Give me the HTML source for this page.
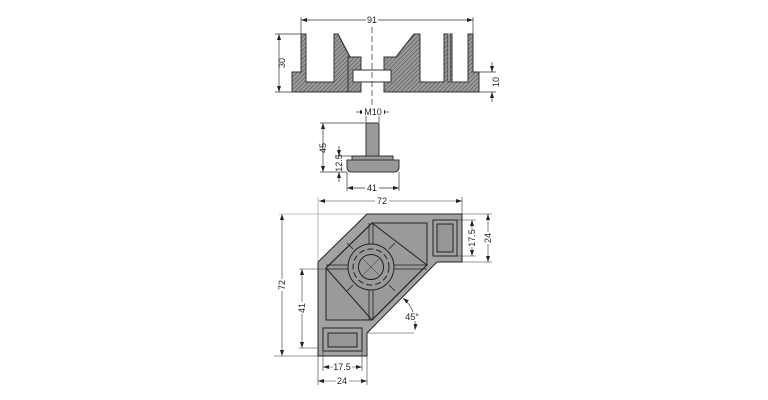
<!DOCTYPE html>
<html><head><style>
html,body{margin:0;padding:0;background:#fff;}
svg{display:block;}
text{font-family:"Liberation Sans",sans-serif;font-size:9px;fill:#222;}
</style></head><body>
<svg width="768" height="400" viewBox="0 0 768 400" xmlns="http://www.w3.org/2000/svg">
<defs>
<pattern id="h" width="3" height="3" patternUnits="userSpaceOnUse" patternTransform="rotate(45)">
<rect width="3" height="3" fill="#9a9a9a"/><line x1="0" y1="0" x2="0" y2="3" stroke="#444" stroke-width="1"/>
</pattern>
<marker id="a" markerWidth="6" markerHeight="6" refX="6" refY="3" orient="auto-start-reverse" markerUnits="userSpaceOnUse">
<path d="M0,1 L6,3 L0,5z" fill="#222"/></marker>
</defs>
<g stroke="#333" stroke-width="1" fill="url(#h)">
<path d="M292,72 H301 V34 H306 V82 H334 V34 H338 L350,57 H348 V92 H292 Z"/>
<path d="M301,34 V72"/>
<rect x="348" y="57" width="13" height="35"/>
<rect x="384" y="57" width="12" height="35"/>
<path d="M396,57 L414,34 H420 V82 H444 V34 H448 V82 H450 V34 H452 V82 H468 V34 H473 V72 H479 V92 H384 V57 Z"/>
<rect x="353" y="70" width="38" height="12" fill="#fff"/>
<path d="M338,34 L350,57 M414,34 L396,57" fill="none"/>
</g>
<line x1="372" y1="18" x2="372" y2="106" stroke="#444" stroke-width="0.8" stroke-dasharray="6,3"/>
<g stroke="#333" stroke-width="0.7" fill="none">
<line x1="301" y1="20" x2="473" y2="20" marker-start="url(#a)" marker-end="url(#a)"/>
<line x1="301" y1="17" x2="301" y2="34"/><line x1="473" y1="17" x2="473" y2="34"/>
<line x1="279" y1="34" x2="279" y2="92" marker-start="url(#a)" marker-end="url(#a)"/>
<line x1="275" y1="34" x2="301" y2="34"/><line x1="275" y1="92" x2="292" y2="92"/>
<line x1="479" y1="72" x2="496" y2="72"/><line x1="479" y1="92" x2="496" y2="92"/>
<line x1="492" y1="62" x2="492" y2="72" marker-end="url(#a)"/><line x1="492" y1="102" x2="492" y2="92" marker-end="url(#a)"/>
</g>
<rect x="366" y="16" width="12" height="8" fill="#fff"/>
<text x="372" y="23" text-anchor="middle">91</text>
<text transform="translate(285,63) rotate(-90)" text-anchor="middle">30</text>
<text transform="translate(499,82) rotate(-90)" text-anchor="middle">10</text>
<g stroke="#333" stroke-width="1" fill="#999">
<path d="M366,125 Q366,123 368,123 H377 Q379,123 379,125 V156 H366 Z"/>
<rect x="352" y="156" width="41" height="4"/>
<path d="M347,160 H399 V167 Q399,172 394,172 H352 Q347,172 347,167 Z"/>
</g>
<g stroke="#333" stroke-width="0.7" fill="none">
<line x1="356" y1="112" x2="366" y2="112" marker-end="url(#a)"/><line x1="389" y1="112" x2="379" y2="112" marker-end="url(#a)"/>
<line x1="366" y1="108" x2="366" y2="123"/><line x1="379" y1="108" x2="379" y2="123"/>
<line x1="323" y1="123" x2="323" y2="172" marker-start="url(#a)" marker-end="url(#a)"/>
<line x1="320" y1="123" x2="366" y2="123"/><line x1="320" y1="172" x2="347" y2="172"/>
<line x1="339" y1="146" x2="339" y2="156" marker-end="url(#a)"/><line x1="339" y1="182" x2="339" y2="172" marker-end="url(#a)"/>
<line x1="336" y1="156" x2="352" y2="156"/>
<line x1="347" y1="188" x2="399" y2="188" marker-start="url(#a)" marker-end="url(#a)"/>
<line x1="347" y1="172" x2="347" y2="191"/><line x1="399" y1="172" x2="399" y2="191"/>
</g>
<rect x="362" y="107" width="22" height="9" fill="#fff"/>
<text x="373" y="115" text-anchor="middle">M10</text>
<text transform="translate(326,148) rotate(-90)" text-anchor="middle">45</text>
<text transform="translate(342,163) rotate(-90)" text-anchor="middle" font-size="8">12.5</text>
<rect x="365" y="184" width="14" height="8" fill="#fff"/>
<text x="372" y="191" text-anchor="middle">41</text>
<g stroke="#222" stroke-width="1">
<path d="M367,214 H462 V262 H437 L367,333 V356 H318 V262 Z" fill="#a2a2a2"/>
<rect x="433" y="220" width="24" height="36" fill="#a2a2a2"/>
<rect x="437" y="224" width="16" height="28" fill="#979797"/>
<rect x="323" y="328" width="39" height="23" fill="#a2a2a2"/>
<rect x="328" y="333" width="29" height="14" fill="#979797"/>
<path d="M372,223 H427 V265 L372,320 H326 V268 Z" fill="#9a9a9a"/>
<path d="M372,223 L427,265 L372,320 L326,268 Z" fill="none"/>
<circle cx="371" cy="267" r="23" fill="none"/>
<circle cx="371" cy="267" r="12.5" fill="none"/>
<circle cx="371" cy="267" r="18" fill="none" stroke-dasharray="6,3"/>
</g>
<g stroke="#222" stroke-width="0.8" fill="none">
<path d="M369,223 V244 M373,223 V244 M369,290 V320 M373,290 V320 M326,265 H348 M326,269 H348 M394,265 H427 M394,269 H427"/>
<path d="M353,249 L347,243 M389,249 L395,243 M353,285 L347,291 M389,285 L395,291"/>
<path d="M363,259 L379,275 M379,259 L363,275" stroke-width="0.5"/>
</g>
<g stroke="#333" stroke-width="0.6" fill="none">
<line x1="319" y1="201" x2="462" y2="201" marker-start="url(#a)" marker-end="url(#a)"/>
<line x1="318" y1="197" x2="318" y2="262" stroke="#888"/><line x1="462" y1="197" x2="462" y2="214"/>
<line x1="282" y1="214" x2="282" y2="356" marker-start="url(#a)" marker-end="url(#a)"/>
<line x1="279" y1="214" x2="367" y2="214" stroke="#888"/><line x1="274" y1="356" x2="318" y2="356"/>
<line x1="302" y1="269" x2="302" y2="348" marker-start="url(#a)" marker-end="url(#a)"/>
<line x1="299" y1="269" x2="326" y2="269"/><line x1="299" y1="348" x2="318" y2="348"/>
<line x1="472" y1="220" x2="472" y2="256" marker-start="url(#a)" marker-end="url(#a)"/>
<line x1="457" y1="220" x2="476" y2="220"/><line x1="457" y1="256" x2="476" y2="256"/>
<line x1="488" y1="214" x2="488" y2="262" marker-start="url(#a)" marker-end="url(#a)"/>
<line x1="462" y1="214" x2="492" y2="214"/><line x1="462" y1="262" x2="492" y2="262"/>
<line x1="323" y1="367" x2="362" y2="367" marker-start="url(#a)" marker-end="url(#a)"/>
<line x1="323" y1="351" x2="323" y2="371"/><line x1="362" y1="351" x2="362" y2="371"/>
<line x1="318" y1="381" x2="367" y2="381" marker-start="url(#a)" marker-end="url(#a)"/>
<line x1="318" y1="356" x2="318" y2="385"/><line x1="367" y1="333" x2="367" y2="385"/>
<line x1="367" y1="333" x2="414" y2="333"/>
<path d="M403,298 Q417,310 415,330" marker-start="url(#a)" marker-end="url(#a)"/>
</g>
<rect x="375" y="197" width="14" height="8" fill="#fff"/>
<text x="382" y="204" text-anchor="middle">72</text>
<rect x="278" y="279" width="8" height="12" fill="#fff"/>
<text transform="translate(285,285) rotate(-90)" text-anchor="middle">72</text>
<rect x="298" y="302" width="8" height="12" fill="#fff"/>
<text transform="translate(305,308) rotate(-90)" text-anchor="middle">41</text>
<rect x="468" y="229" width="8" height="18" fill="#fff"/>
<text transform="translate(475,238) rotate(-90)" text-anchor="middle">17.5</text>
<rect x="484" y="232" width="8" height="12" fill="#fff"/>
<text transform="translate(491,238) rotate(-90)" text-anchor="middle">24</text>
<rect x="333" y="363" width="19" height="8" fill="#fff"/>
<text x="342" y="370" text-anchor="middle">17.5</text>
<rect x="336" y="377" width="13" height="8" fill="#fff"/>
<text x="342" y="384" text-anchor="middle">24</text>
<rect x="404" y="312" width="15" height="9" fill="#fff"/>
<text x="412" y="320" text-anchor="middle">45°</text>
</svg>
</body></html>
